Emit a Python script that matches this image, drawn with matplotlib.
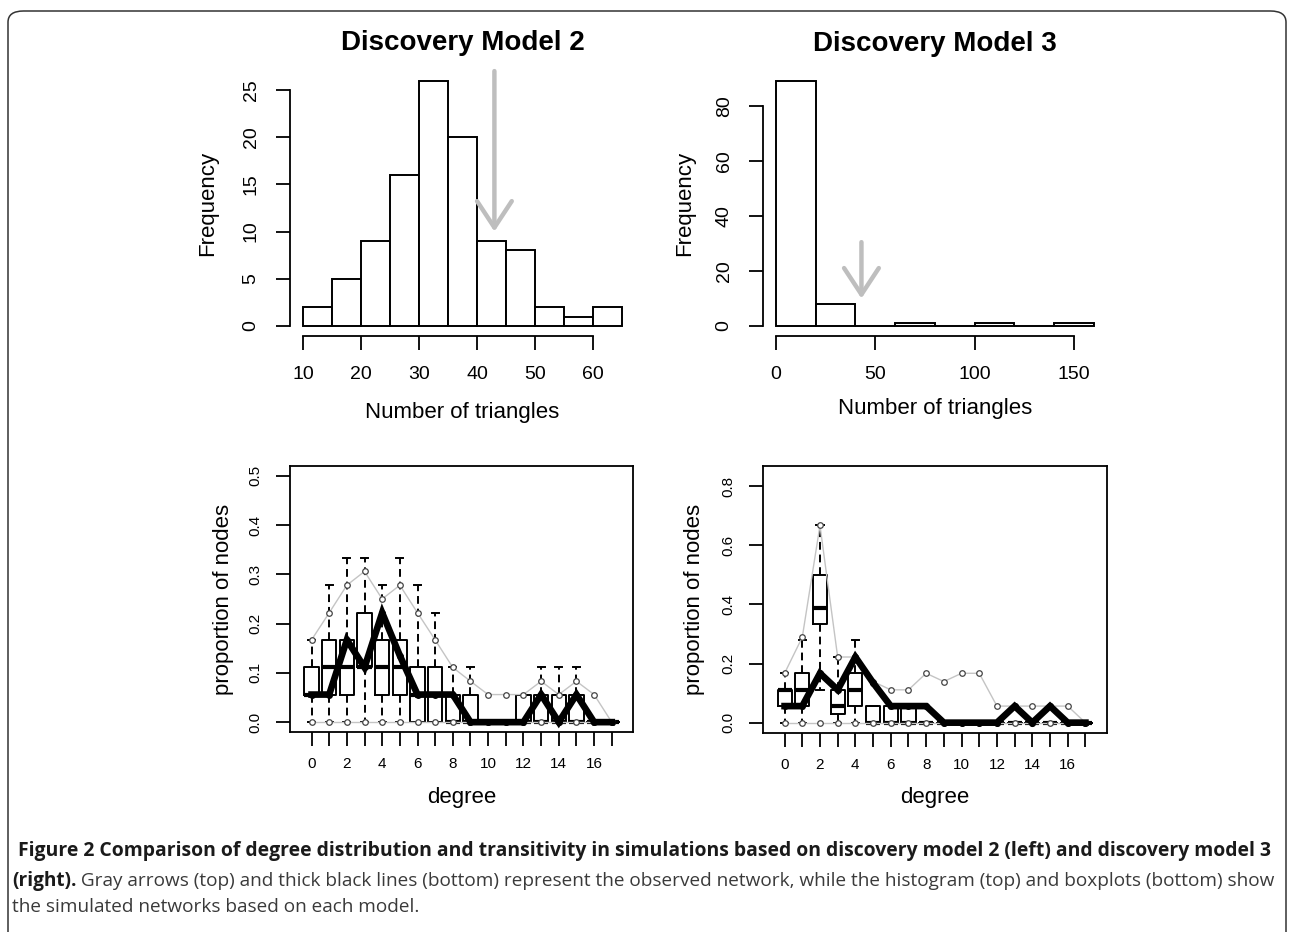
import numpy as np
import matplotlib.pyplot as plt
from matplotlib.patches import FancyBboxPatch

plt.rcParams['font.family'] = ['Liberation Sans', 'DejaVu Sans']

W, H = 1292, 932

#======================================================================
#    Data
# histograms of number of triangles in the simulated networks
edges_m2 = [10, 15, 20, 25, 30, 35, 40, 45, 50, 55, 60, 65]
counts_m2 = [2, 5, 9, 16, 26, 20, 9, 8, 2, 1, 2]
edges_m3 = [0, 20, 40, 60, 80, 100, 120, 140, 160]
counts_m3 = [89, 8, 0, 1, 0, 1, 0, 1]
obs_triangles = 43
arrow_top_m2, arrow_top_m3 = 27, 30.5
arrow_tip = 10

# degree distribution boxplots
degrees = list(range(18))
deg_labels = ['0', '', '2', '', '4', '', '6', '', '8', '', '10', '', '12', '',
              '14', '', '16', '']
obs_prop = [0.056, 0.056, 0.167, 0.111, 0.222, 0.135, 0.056, 0.056, 0.056,
            0, 0, 0, 0, 0.056, 0, 0.056, 0, 0]

q1_m2 = [0.056, 0.056, 0.056, 0.111, 0.056, 0.056, 0, 0, 0, 0, 0, 0, 0, 0, 0, 0, 0, 0]
med_m2 = [0.056, 0.111, 0.111, 0.111, 0.111, 0.111, 0.056, 0.056, 0, 0, 0, 0, 0, 0, 0, 0, 0, 0]
q3_m2 = [0.111, 0.167, 0.167, 0.222, 0.167, 0.167, 0.111, 0.111, 0.056, 0.056, 0, 0,
         0.056, 0.056, 0.056, 0.056, 0, 0]
lo_m2 = [0] * 18
hi_m2 = [0.167, 0.278, 0.333, 0.333, 0.278, 0.333, 0.278, 0.222, 0.111, 0.111, 0, 0,
         0.056, 0.111, 0.111, 0.111, 0, 0]
upper_m2 = [0.167, 0.222, 0.278, 0.306, 0.25, 0.278, 0.222, 0.167, 0.111, 0.083,
            0.056, 0.056, 0.056, 0.083, 0.056, 0.083, 0.056, 0]
lower_m2 = [0] * 18

q1_m3 = [0.056, 0.056, 0.333, 0.028, 0.056, 0, 0, 0, 0, 0, 0, 0, 0, 0, 0, 0, 0, 0]
med_m3 = [0.111, 0.111, 0.389, 0.056, 0.111, 0, 0, 0, 0, 0, 0, 0, 0, 0, 0, 0, 0, 0]
q3_m3 = [0.111, 0.167, 0.5, 0.111, 0.167, 0.056, 0.056, 0.056, 0, 0, 0, 0, 0, 0, 0, 0, 0, 0]
lo_m3 = [0, 0, 0.111, 0, 0, 0, 0, 0, 0, 0, 0, 0, 0, 0, 0, 0, 0, 0]
hi_m3 = [0.167, 0.278, 0.667, 0.222, 0.278, 0.056, 0.056, 0.056, 0, 0, 0, 0, 0, 0, 0, 0, 0, 0]
upper_m3 = [0.167, 0.289, 0.667, 0.222, 0.222, 0.139, 0.111, 0.111, 0.167, 0.139,
            0.167, 0.167, 0.056, 0.056, 0.056, 0.056, 0.056, 0]
lower_m3 = [0] * 18

caption1 = (' Figure 2 Comparison of degree distribution and transitivity in simulations '
            'based on discovery model 2 (left) and discovery model 3')
caption2b = '(right).'
caption2 = (' Gray arrows (top) and thick black lines (bottom) represent the observed '
            'network, while the histogram (top) and boxplots (bottom) show')
caption3 = 'the simulated networks based on each model.'


#======================================================================
#    Helpers
def px_axes(fig, x0, y0, x1, y1):
    # axes from pixel box (top-left origin)
    return fig.add_axes([x0 / W, 1 - y1 / H, (x1 - x0) / W, (y1 - y0) / H])

def r_hist(ax, edges, counts, ybound, xbound, yticks, xticks, title, xfrac, yfrac):
    ax.bar(edges[:-1], counts, width=np.diff(edges), align='edge', color='white',
           edgecolor='black', linewidth=1.4)
    ax.set_xlim(edges[0] - 0.04 * (edges[-1] - edges[0]),
                edges[-1] + 0.04 * (edges[-1] - edges[0]))
    ax.set_ylim(-0.04 * max(counts), 1.04 * max(counts))
    for s in ['top', 'right']:
        ax.spines[s].set_visible(False)
    ax.spines['left'].set_bounds(*ybound)
    ax.spines['bottom'].set_bounds(*xbound)
    for s in ['left', 'bottom']:
        ax.spines[s].set_linewidth(1.3)
    ax.set_xticks(xticks)
    ax.set_yticks(yticks)
    ax.tick_params(length=10, width=1.3, pad=12, labelsize=14)
    plt.setp(ax.get_yticklabels(), rotation=90, va='center')
    ax.set_xlabel('Number of triangles', fontsize=16)
    ax.set_ylabel('Frequency', fontsize=16)
    ax.xaxis.set_label_coords(0.5, xfrac)
    ax.yaxis.set_label_coords(yfrac, 0.5)
    ax.xaxis.label.set_va('center')
    ax.yaxis.label.set_va('center')
    ax.set_title(title, fontsize=20, fontweight='bold', pad=15)

def gof_box(ax, q1, med, q3, lo, hi, upper, lower, yticks, ylim, xfrac, yfrac):
    stats = []
    for i in range(len(degrees)):
        stats.append(dict(q1=q1[i], med=med[i], q3=q3[i], whislo=lo[i],
                          whishi=hi[i], fliers=[]))
    ax.bxp(stats, positions=degrees, widths=0.8, capwidths=0.4, showfliers=False,
           boxprops=dict(color='black', linewidth=1.4),
           medianprops=dict(color='black', linewidth=3),
           whiskerprops=dict(color='black', linewidth=1.4, linestyle=(0, (4, 2.5))),
           capprops=dict(color='black', linewidth=1.4))
    for band in [upper, lower]:
        ax.plot(degrees, band, color='#c4c4c4', linewidth=1.0, marker='o',
                markersize=4, markerfacecolor='white', markeredgecolor='#444444',
                markeredgewidth=0.9, zorder=3)
    ax.plot(degrees, obs_prop, color='black', linewidth=4.8, marker='o',
            markersize=4, zorder=4, solid_joinstyle='miter')
    ax.set_xlim(-1.22, 18.22)
    ax.set_ylim(*ylim)
    ax.set_xticks(degrees)
    ax.set_xticklabels(deg_labels)
    ax.set_yticks(yticks)
    ax.set_yticklabels(['%.1f' % v for v in yticks])
    for s in ax.spines.values():
        s.set_linewidth(1.3)
    ax.tick_params(length=10, width=1.3, labelsize=11)
    ax.tick_params(axis='x', pad=8)
    ax.tick_params(axis='y', pad=10)
    plt.setp(ax.get_yticklabels(), rotation=90, va='center')
    ax.set_xlabel('degree', fontsize=16)
    ax.set_ylabel('proportion of nodes', fontsize=16)
    ax.xaxis.set_label_coords(0.5, xfrac)
    ax.yaxis.set_label_coords(yfrac, 0.5)
    ax.xaxis.label.set_va('center')
    ax.yaxis.label.set_va('center')


#======================================================================
#    Figure
fig = plt.figure(figsize=(W / 100, H / 100), dpi=100)

ax1 = px_axes(fig, 290.2, 70.7, 634.8, 335.8)
r_hist(ax1, edges_m2, counts_m2, (0, 25), (10, 60), [0, 5, 10, 15, 20, 25],
       [10, 20, 30, 40, 50, 60], 'Discovery Model 2', -0.29, -0.24)
ax1.annotate('', xy=(obs_triangles, arrow_tip), xytext=(obs_triangles, arrow_top_m2),
             arrowprops=dict(arrowstyle='->,head_length=1.9,head_width=1.25',
                             color='#bebebe', lw=3.2, mutation_scale=10,
                             shrinkA=0, shrinkB=0), annotation_clip=False)

ax2 = px_axes(fig, 763.3, 71.5, 1106.6, 335.8)
r_hist(ax2, edges_m3, counts_m3, (0, 80), (0, 150), [0, 20, 40, 60, 80],
       [0, 50, 100, 150], 'Discovery Model 3', -0.275, -0.23)
ax2.annotate('', xy=(obs_triangles, arrow_tip), xytext=(obs_triangles, arrow_top_m3),
             arrowprops=dict(arrowstyle='->,head_length=1.9,head_width=1.25',
                             color='#bebebe', lw=3.2, mutation_scale=10,
                             shrinkA=0, shrinkB=0), annotation_clip=False)

ax3 = px_axes(fig, 290, 466, 633.3, 732)
gof_box(ax3, q1_m2, med_m2, q3_m2, lo_m2, hi_m2, upper_m2, lower_m2,
        [0, 0.1, 0.2, 0.3, 0.4, 0.5], (-0.02, 0.52), -0.248, -0.195)

ax4 = px_axes(fig, 763, 466, 1107, 733)
gof_box(ax4, q1_m3, med_m3, q3_m3, lo_m3, hi_m3, upper_m3, lower_m3,
        [0, 0.2, 0.4, 0.6, 0.8], (-0.035, 0.868), -0.243, -0.198)

# rounded frame around the figure panel
frame = FancyBboxPatch((8 / W, -0.05), (1286 - 8) / W, 1.05 - 11 / H,
                       boxstyle='round,pad=0,rounding_size=0.012',
                       transform=fig.transFigure, facecolor='none',
                       edgecolor='#333333', linewidth=1.1)
fig.patches.append(frame)

# caption, each line scaled to the width seen in the figure
t1 = fig.text(13 / W, 1 - 851 / H, caption1, fontsize=12, fontweight='bold',
              family='Open Sans', color='#1a1a1a', va='center', ha='left')
t2b = fig.text(12 / W, 1 - 881 / H, caption2b, fontsize=12, fontweight='bold',
               family='Open Sans', color='#1a1a1a', va='center', ha='left')
t2 = fig.text(0.1, 1 - 881 / H, caption2, fontsize=12, family='Open Sans',
              color='#3a3a3a', va='center', ha='left')
t3 = fig.text(12 / W, 1 - 907 / H, caption3, fontsize=12, family='Open Sans',
              color='#3a3a3a', va='center', ha='left')
fig.canvas.draw()
r = fig.canvas.get_renderer()
s1 = (1272 - 13) / t1.get_window_extent(r).width
t1.set_fontsize(12 * s1)
w2 = t2b.get_window_extent(r).width + t2.get_window_extent(r).width
s2 = (1266 - 12) / w2
for t in [t2b, t2, t3]:
    t.set_fontsize(12 * s2)
fig.canvas.draw()
t2.set_x(t2b.get_window_extent(r).x1 / W)

fig.savefig('out.png', dpi=100)
